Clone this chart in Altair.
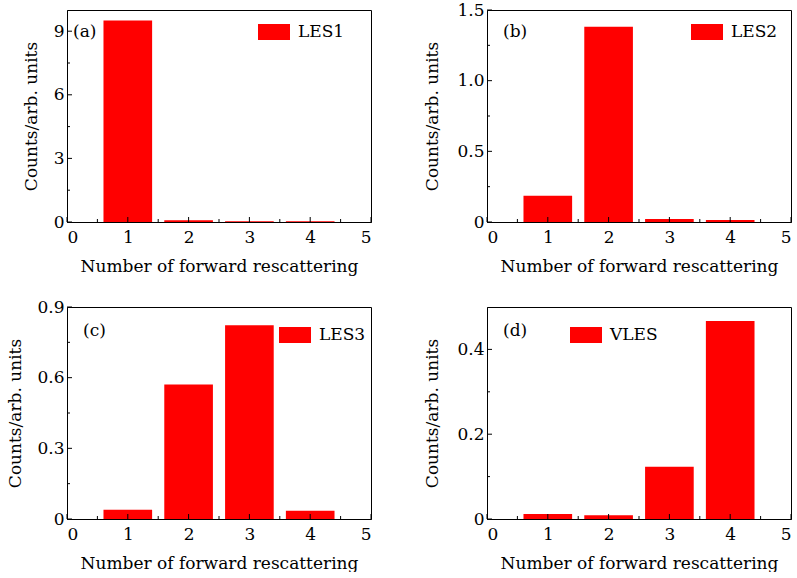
import altair as alt
import pandas as pd

# ---- data ----
rescatter = [1, 2, 3, 4]
les1 = [9.5, 0.08, 0.04, 0.04]
les2 = [0.186, 1.382, 0.021, 0.014]
les3 = [0.039, 0.571, 0.823, 0.035]
vles = [0.012, 0.009, 0.123, 0.467]

series_names = ["LES1", "LES2", "LES3", "VLES"]
panel_tags = ["(a)", "(b)", "(c)", "(d)"]
y_max = [10, 1.5, 0.9, 0.5]
y_major = [[0, 3, 6, 9], [0, 0.5, 1.0, 1.5], [0, 0.3, 0.6, 0.9], [0, 0.2, 0.4]]
y_minor = [[1.5, 4.5, 7.5], [0.25, 0.75, 1.25], [0.15, 0.45, 0.75], [0.1, 0.3]]
x_major = [0, 1, 2, 3, 4, 5]
x_minor = [0.5, 1.5, 2.5, 3.5, 4.5]

# ---- layout / style (pixels) ----
W, H = 304, 212
FONT = "DejaVu Serif"
FS = 17
RED = "#ff0000"
legend_pos = [(191, 6), (204, 6), (212, 12), (83, 12)]
tag_pos = [(6, 22), (16, 22), (16, 24), (16, 24)]
ytitle_x = [-36, -55, -52, -55]
y_label_expr = [
    "format(datum.value, 'd')",
    "datum.value == 0 ? '0' : format(datum.value, '.1f')",
    "datum.value == 0 ? '0' : format(datum.value, '.1f')",
    "datum.value == 0 ? '0' : format(datum.value, '.1f')",
]
all_values = [les1, les2, les3, vles]

rect_path = "M-1,-0.5H1V0.5H-1Z"


def panel(i):
    df = pd.DataFrame({"n": rescatter, "v": all_values[i], "series": series_names[i]})
    xs = alt.Scale(domain=[0, 5], nice=False, zero=False)
    ys = alt.Scale(domain=[0, y_max[i]], nice=False)
    xaxis = alt.Axis(
        values=x_major,
        format="d",
        ticks=False,
        labelPadding=7,
        title="Number of forward rescattering",
        titleY=49,
        titleBaseline="alphabetic",
    )
    yaxis = alt.Axis(
        values=y_major[i],
        labelExpr=y_label_expr[i],
        ticks=False,
        labelPadding=3,
        labelBaseline="middle",
        title="Counts/arb. units",
        titleX=ytitle_x[i],
        titleBaseline="middle",
    )
    bars = (
        alt.Chart(df)
        .transform_calculate(x0="datum.n - 0.4", x1="datum.n + 0.4", z="0")
        .mark_rect()
        .encode(
            x=alt.X("x0:Q", scale=xs, axis=xaxis),
            x2="x1:Q",
            y=alt.Y("v:Q", scale=ys, axis=yaxis),
            y2="z:Q",
            color=alt.Color(
                "series:N",
                scale=alt.Scale(domain=[series_names[i]], range=[RED]),
                legend=alt.Legend(
                    orient="none",
                    legendX=legend_pos[i][0],
                    legendY=legend_pos[i][1],
                    title=None,
                    symbolType=rect_path,
                    symbolSize=1024,
                    symbolStrokeWidth=0,
                    symbolFillColor=RED,
                    symbolOpacity=1,
                    labelFont=FONT,
                    labelFontSize=FS,
                    labelColor="black",
                    labelOffset=8,
                    padding=0,
                ),
            ),
        )
    )
    xmaj = (
        alt.Chart(pd.DataFrame({"t": x_major}))
        .mark_rule(color="black", strokeWidth=1)
        .encode(x=alt.X("t:Q", scale=xs, axis=xaxis), y=alt.value(H), y2=alt.value(H - 5))
    )
    xmin = (
        alt.Chart(pd.DataFrame({"t": x_minor}))
        .mark_rule(color="black", strokeWidth=1)
        .encode(x=alt.X("t:Q", scale=xs, axis=xaxis), y=alt.value(H), y2=alt.value(H - 3))
    )
    ymaj = (
        alt.Chart(pd.DataFrame({"t": y_major[i]}))
        .mark_rule(color="black", strokeWidth=1)
        .encode(y=alt.Y("t:Q", scale=ys, axis=yaxis), x=alt.value(0), x2=alt.value(5))
    )
    ymin = (
        alt.Chart(pd.DataFrame({"t": y_minor[i]}))
        .mark_rule(color="black", strokeWidth=1)
        .encode(y=alt.Y("t:Q", scale=ys, axis=yaxis), x=alt.value(0), x2=alt.value(3))
    )
    tag = (
        alt.Chart(pd.DataFrame({"t": [panel_tags[i]]}))
        .mark_text(align="left", baseline="middle", font=FONT, fontSize=FS, color="black")
        .encode(text="t:N", x=alt.value(tag_pos[i][0]), y=alt.value(tag_pos[i][1]))
    )
    return alt.layer(bars, xmaj, xmin, ymaj, ymin, tag).properties(width=W, height=H)


chart = (
    alt.concat(*[panel(i) for i in range(4)], columns=2, spacing={"row": 85, "column": 116}, bounds="flush")
    .resolve_scale(color="independent")
    .resolve_legend(color="independent")
    .properties(padding={"left": 5, "top": 0, "right": 0, "bottom": 0})
    .configure(background="white")
    .configure_view(stroke="black", strokeWidth=1)
    .configure_axis(
        labelFont=FONT,
        titleFont=FONT,
        labelFontSize=FS,
        titleFontSize=FS,
        titleFontWeight="normal",
        labelColor="black",
        titleColor="black",
        domainColor="black",
        domainWidth=1,
        grid=False,
    )
)

chart.save("out.html", embed_options={"renderer": "svg", "actions": False})
